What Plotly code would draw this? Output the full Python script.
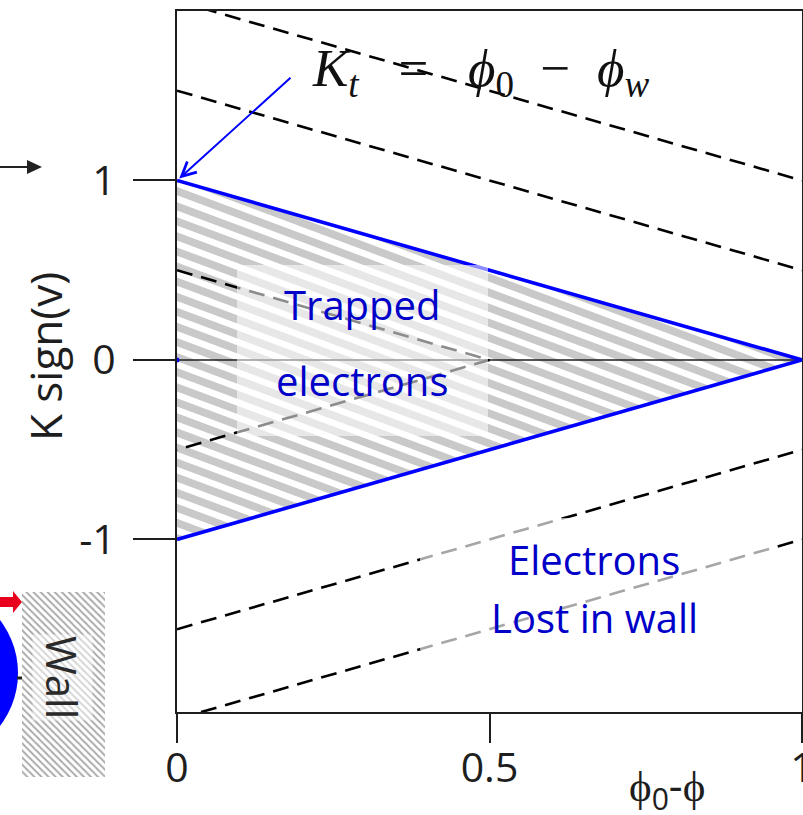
import plotly.graph_objects as go

# ---------------- data ----------------
x_tick_vals = [0, 0.5, 1]
x_tick_text = ["0", "0.5", "1"]
y_tick_vals = [-1, 0, 1]
y_tick_text = ["-1", "0", "1"]

boundary_x = [0, 1, 0]            # separatrix K = ±(1 - x)
boundary_y = [1, 0, -1]

trapped_orbit_x = [0, 0.5, 0]     # a trapped orbit (reflects at K=0)
trapped_orbit_y = [0.5, 0, -0.5]

upper_orbit_K = [2.0, 1.5]        # passing orbits  y = K - x
lower_orbit_K = [-1.5, -2.0]      # lost orbits     y = K + x
orbit_x = [0, 1]

zero_x = [0, 1]
zero_y = [0, 0]

# ---------------- geometry of the page ----------------
W, H = 803, 815
PX_L, PX_R, PX_T, PX_B = 177, 802, 11, 712
Y_MIN, Y_MAX = -1.961, 1.944

BLUE = "#0000ff"
TXT_BLUE = "#0000c8"
DARK = "#1e1e1e"

# hatch (grey stripes) inside the trapped region, clipped to the triangle
HATCH_SLOPE = 1.3
HATCH_PERIOD = 0.084
HATCH_BAND = 0.046


def clip_half(poly, f):
    out = []
    n = len(poly)
    for i in range(n):
        p, q = poly[i], poly[(i + 1) % n]
        fp, fq = f(p), f(q)
        if fp >= 0:
            out.append(p)
        if (fp >= 0) != (fq >= 0):
            t = fp / (fp - fq)
            out.append((p[0] + t * (q[0] - p[0]), p[1] + t * (q[1] - p[1])))
    return out


tri = list(zip(boundary_x, boundary_y))
hx, hy = [], []
c = 1.0 + HATCH_SLOPE * 0.23
while c - HATCH_BAND > -1.05:
    poly = clip_half(tri, lambda p, c=c: c - (p[1] + HATCH_SLOPE * p[0]))
    if len(poly) >= 3:
        poly = clip_half(poly, lambda p, c=c: (p[1] + HATCH_SLOPE * p[0]) - (c - HATCH_BAND))
    if len(poly) >= 3:
        hx += [p[0] for p in poly] + [poly[0][0], None]
        hy += [p[1] for p in poly] + [poly[0][1], None]
    c -= HATCH_PERIOD

fig = go.Figure()

fig.add_trace(go.Scatter(x=hx, y=hy, mode="lines", fill="toself",
                         fillcolor="#c9c9c9", line=dict(width=0),
                         hoverinfo="skip"))

fig.add_trace(go.Scatter(x=zero_x, y=zero_y, mode="lines",
                         line=dict(color=DARK, width=1.6)))

DASH = dict(color="black", width=2.6, dash="16px,9px")
for K in upper_orbit_K:
    fig.add_trace(go.Scatter(x=orbit_x, y=[K - x for x in orbit_x], mode="lines", line=DASH))
for K in lower_orbit_K:
    fig.add_trace(go.Scatter(x=orbit_x, y=[K + x for x in orbit_x], mode="lines", line=DASH))

fig.add_trace(go.Scatter(x=trapped_orbit_x, y=trapped_orbit_y, mode="lines", line=DASH))

fig.add_trace(go.Scatter(x=boundary_x, y=boundary_y, mode="lines",
                         line=dict(color=BLUE, width=3.6)))
fig.add_trace(go.Scatter(x=[0], y=[0], mode="markers",
                         marker=dict(color=BLUE, size=5), cliponaxis=False))

# wall (left decoration, pixel axes)
wall_x = [22, 105, 105, 22, 22]
wall_y = [592, 592, 777, 777, 592]
fig.add_trace(go.Scatter(x=wall_x, y=wall_y, xaxis="x2", yaxis="y2", mode="lines",
                         fill="toself", line=dict(width=0),
                         fillcolor="white",
                         fillpattern=dict(shape="\\", fgcolor="#555555", bgcolor="white",
                                          size=5, solidity=0.4)))


def X(px):
    return (px - PX_L) / (PX_R - PX_L)


def Y(py):
    return Y_MAX - (py - PX_T) / (PX_B - PX_T) * (Y_MAX - Y_MIN)


shapes = [
    # translucent boxes behind the labels
    dict(type="rect", xref="x", yref="y", x0=X(237), x1=X(488), y0=Y(436), y1=Y(265),
         fillcolor="rgba(255,255,255,0.55)", line=dict(width=0), layer="above"),
    dict(type="rect", xref="x", yref="y", x0=X(420), x1=X(770), y0=Y(650), y1=Y(518),
         fillcolor="rgba(255,255,255,0.65)", line=dict(width=0), layer="above"),
    # blue particle
    dict(type="circle", xref="x2", yref="y2", x0=-156, x1=18, y0=586, y1=760,
         fillcolor="#0000ff", line=dict(width=0), layer="above"),
    dict(type="line", xref="x2", yref="y2", x0=17, x1=22, y0=678, y1=678,
         line=dict(color="#222", width=3), layer="above"),
    # red arrow
    dict(type="path", xref="x2", yref="y2",
         path="M -5 597 L 13 597 L 13 591 L 22 602 L 13 613 L 13 607 L -5 607 Z",
         fillcolor="#e8001c", line=dict(width=0), layer="above"),
    # black arrow (left edge)
    dict(type="line", xref="x2", yref="y2", x0=0, x1=30, y0=167, y1=167,
         line=dict(color="#222", width=2), layer="above"),
    dict(type="path", xref="x2", yref="y2",
         path="M 27 160 L 42 167 L 27 174 Z",
         fillcolor="#222", line=dict(width=0), layer="above"),
]

annotations = [
    dict(xref="x2", yref="y2", x=480, y=72,
         text="<i>K</i><sub><i>t</i></sub>\u2002 = \u2002<i>ϕ</i><sub>0</sub>\u2002−\u2002<i>ϕ</i><sub><i>w</i></sub>",
         showarrow=False, font=dict(family="Liberation Serif", size=53, color="#111")),
    dict(xref="x", yref="y", x=0, y=1, text="", showarrow=True, ax=115, ay=-104,
         arrowhead=5, arrowsize=1.4, arrowwidth=2, arrowcolor=BLUE, standoff=3),
    dict(xref="x", yref="y", x=X(362), y=Y(304), text="Trapped", showarrow=False,
         font=dict(family="Open Sans", size=40, color=TXT_BLUE)),
    dict(xref="x", yref="y", x=X(362), y=Y(380), text="electrons", showarrow=False,
         font=dict(family="Open Sans", size=40, color=TXT_BLUE)),
    dict(xref="x", yref="y", x=X(594), y=Y(559), text="Electrons", showarrow=False,
         font=dict(family="Open Sans", size=40, color=TXT_BLUE)),
    dict(xref="x", yref="y", x=X(594), y=Y(617), text="Lost in wall", showarrow=False,
         font=dict(family="Open Sans", size=40, color=TXT_BLUE)),
    dict(xref="x2", yref="y2", x=45, y=357, text="K sign(v)", textangle=-90,
         showarrow=False, font=dict(family="Open Sans", size=44, color=DARK)),
    dict(xref="x2", yref="y2", x=667, y=787, text="ϕ<sub>0</sub>-ϕ",
         showarrow=False, font=dict(family="Open Sans", size=43, color=DARK)),
    dict(xref="x2", yref="y2", x=63, y=677, text="Wall", textangle=90,
         showarrow=False, bgcolor="rgba(255,255,255,0.5)",
         font=dict(family="Open Sans", size=42, color="#2a2a2a")),
]

fig.update_layout(
    width=W, height=H,
    margin=dict(l=0, r=0, t=0, b=0, autoexpand=False),
    paper_bgcolor="white", plot_bgcolor="rgba(0,0,0,0)",
    showlegend=False,
    shapes=shapes, annotations=annotations,
    xaxis=dict(domain=[PX_L / W, PX_R / W], range=[0, 1], anchor="y",
               showgrid=False, zeroline=False, showline=True, mirror=True,
               linecolor=DARK, linewidth=2, automargin=False,
               ticks="outside", ticklen=29, tickwidth=2, tickcolor=DARK,
               ticklabelstandoff=-10, ticklabeloverflow="allow",
               tickvals=x_tick_vals, ticktext=x_tick_text,
               tickfont=dict(family="Open Sans", size=41, color=DARK)),
    yaxis=dict(domain=[1 - PX_B / H, 1 - PX_T / H], range=[Y_MIN, Y_MAX], anchor="x",
               showgrid=False, zeroline=False, showline=True, mirror=True,
               linecolor=DARK, linewidth=2, automargin=False,
               ticks="outside", ticklen=42, tickwidth=2, tickcolor=DARK,
               ticklabelstandoff=9, ticklabeloverflow="allow",
               tickvals=y_tick_vals, ticktext=y_tick_text,
               tickfont=dict(family="Open Sans", size=41, color=DARK)),
    xaxis2=dict(domain=[0, 1], range=[0, W], anchor="y2", visible=False),
    yaxis2=dict(domain=[0, 1], range=[H, 0], anchor="x2", visible=False),
)

fig.write_html("out.html", config={"displayModeBar": False})
